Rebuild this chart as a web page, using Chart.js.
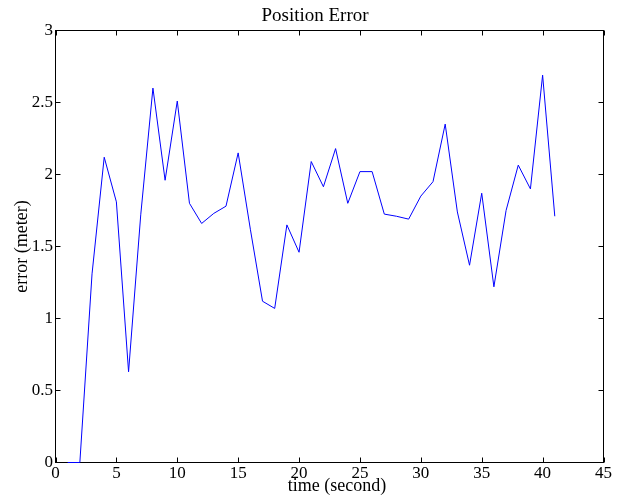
<!DOCTYPE html>
<html>
<head>
<meta charset="utf-8">
<script src="https://cdn.jsdelivr.net/npm/chart.js@4.4.0/dist/chart.umd.min.js"></script>
<style>
  html, body { margin: 0; padding: 0; background: #fff; }
  #wrap { width: 626px; height: 495px; }
</style>
</head>
<body>
<div id="wrap"><canvas id="errChart" width="626" height="495"></canvas></div>
<script>
// ===== DATA =====
const timeSec = [1, 2, 3, 4, 5, 6, 7, 8, 9, 10, 11, 12, 13, 14, 15, 16, 17, 18, 19, 20,
                 21, 22, 23, 24, 25, 26, 27, 28, 29, 30, 31, 32, 33, 34, 35, 36, 37, 38, 39, 40, 41];
const errorMeter = [0, 0, 1.31, 2.12, 1.81, 0.63, 1.72, 2.60, 1.96, 2.51,
                    1.80, 1.66, 1.73, 1.78, 2.15, 1.62, 1.12, 1.07, 1.65, 1.46,
                    2.09, 1.915, 2.18, 1.80, 2.02, 2.02, 1.725, 1.71, 1.69, 1.85,
                    1.95, 2.35, 1.74, 1.37, 1.87, 1.22, 1.75, 2.065, 1.90, 2.69, 1.71];
const xTicks = [0, 5, 10, 15, 20, 25, 30, 35, 40, 45];
const yTicks = [0, 0.5, 1, 1.5, 2, 2.5, 3];
const yTickLabels = ['0', '0.5', '1', '1.5', '2', '2.5', '3'];

const SERIF = "'Liberation Serif', 'Times New Roman', serif";

// ===== FRAME + INWARD TICKS (under the line), TEXT (on top) =====
const framePlugin = {
    id: 'frameTicks',
    beforeDatasetsDraw(chart) {
        const ctx = chart.ctx;
        const a = chart.chartArea;
        const xs = chart.scales.x, ys = chart.scales.y;
        const len = 5;
        ctx.save();
        ctx.strokeStyle = '#000';
        ctx.lineWidth = 1;
        ctx.strokeRect(a.left, a.top, a.right - a.left, a.bottom - a.top);
        ctx.beginPath();
        xTicks.forEach(function(v){
            const px = Math.round(xs.getPixelForValue(v)) + 0.5;
            ctx.moveTo(px, a.bottom); ctx.lineTo(px, a.bottom - len);
            ctx.moveTo(px, a.top); ctx.lineTo(px, a.top + len);
        });
        yTicks.forEach(function(v){
            const py = Math.round(ys.getPixelForValue(v) - 0.5) + 0.5;
            ctx.moveTo(a.left, py); ctx.lineTo(a.left + len, py);
            ctx.moveTo(a.right, py); ctx.lineTo(a.right - len, py);
        });
        ctx.stroke();
        ctx.restore();
    },
    afterDraw(chart) {
        const ctx = chart.ctx;
        const a = chart.chartArea;
        ctx.save();
        ctx.fillStyle = '#000';
        ctx.textAlign = 'center';
        ctx.textBaseline = 'alphabetic';
        ctx.font = '19px ' + SERIF;
        ctx.fillText('Position Error', 315, 20.7);
        ctx.font = '18px ' + SERIF;
        ctx.fillText('time (second)', 337, 490.8);
        ctx.translate(26.5, (a.top + a.bottom) / 2);
        ctx.rotate(-Math.PI / 2);
        ctx.fillText('error (meter)', 0, 0);
        ctx.restore();
    }
};

const ctx = document.getElementById('errChart').getContext('2d');

new Chart(ctx, {
    type: 'line',
    data: {
        datasets: [{
            label: 'Position Error',
            data: timeSec.map(function(t, i){ return { x: t, y: errorMeter[i] }; }),
            borderColor: '#0000ff',
            backgroundColor: '#0000ff',
            borderWidth: 1,
            pointRadius: 0,
            tension: 0,
            fill: false,
            clip: false
        }]
    },
    options: {
        responsive: false,
        animation: false,
        layout: { padding: { left: 0, right: 22.5, top: 30.5, bottom: 0 } },
        plugins: {
            legend: { display: false },
            title: { display: false },
            tooltip: { enabled: false }
        },
        scales: {
            x: {
                type: 'linear',
                min: 0,
                max: 45,
                afterBuildTicks: function(s){ s.ticks = xTicks.map(function(v){ return { value: v }; }); },
                afterFit: function(s){ s.height = 32.5; },
                grid: { display: false, drawTicks: false },
                border: { display: false },
                ticks: {
                    autoSkip: false,
                    maxRotation: 0,
                    padding: 1,
                    color: '#000',
                    font: { family: SERIF, size: 17 },
                    callback: function(v){ return String(v); }
                }
            },
            y: {
                type: 'linear',
                min: 0,
                max: 3,
                afterBuildTicks: function(s){ s.ticks = yTicks.map(function(v){ return { value: v }; }); },
                afterFit: function(s){ s.width = 55.5; },
                grid: { display: false, drawTicks: false },
                border: { display: false },
                ticks: {
                    autoSkip: false,
                    padding: 2.5,
                    color: '#000',
                    font: { family: SERIF, size: 17 },
                    callback: function(v, i){ return yTickLabels[i]; }
                }
            }
        }
    },
    plugins: [framePlugin]
});
</script>
</body>
</html>
